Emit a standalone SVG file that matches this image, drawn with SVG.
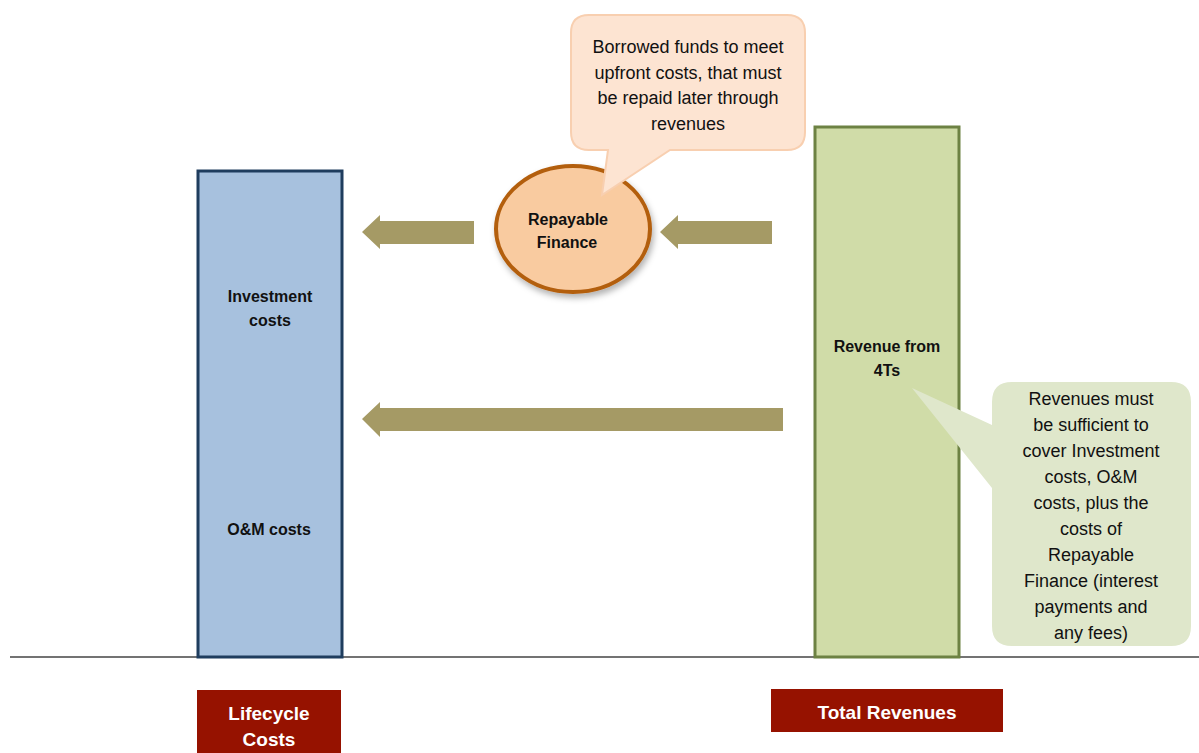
<svg xmlns="http://www.w3.org/2000/svg" width="1199" height="753" viewBox="0 0 1199 753">
<style>
.t{font-family:"Liberation Sans",Arial,sans-serif;fill:#111;text-anchor:middle}
.b{font-weight:bold;font-size:16px}
.c{font-size:18px}
.lab{font-family:"Liberation Sans",Arial,sans-serif;font-weight:bold;font-size:19px;fill:#fff;text-anchor:middle}
.arrow{fill:#a59a65}
</style>
<defs>
<filter id="sh" x="-20%" y="-20%" width="140%" height="150%">
<feDropShadow dx="2" dy="4" stdDeviation="3" flood-color="#000" flood-opacity="0.3"/>
</filter>
</defs>
<rect width="1199" height="753" fill="#fff"/>
<line x1="10" y1="657" x2="1199" y2="657" stroke="#444" stroke-width="1.5"/>
<g id="lifecycle-bar">
<rect x="198" y="171" width="144" height="486" fill="#a7c1de" stroke="#1f3d5e" stroke-width="3"/>
<text class="t b" x="270" y="302">Investment</text>
<text class="t b" x="270" y="326">costs</text>
<text class="t b" x="269" y="535">O&amp;M costs</text>
</g>
<g id="revenue-bar">
<rect x="815" y="127" width="144" height="530" fill="#d0dca8" stroke="#6d8243" stroke-width="3"/>
<text class="t b" x="887" y="352">Revenue from</text>
<text class="t b" x="887" y="376">4Ts</text>
</g>
<g id="connectors">
<polygon class="arrow" points="362,232 380,215 380,221 474,221 474,244 380,244 380,249"/>
<polygon class="arrow" points="660,232 678,215 678,221 772,221 772,244 678,244 678,249"/>
<polygon class="arrow" points="362,419 380,402 380,408 783,408 783,431 380,431 380,437"/>
</g>
<g id="repayable-finance">
<ellipse cx="573" cy="229" rx="77" ry="63" fill="#f9cba0" stroke="#b35e10" stroke-width="4" filter="url(#sh)"/>
<text class="t b" x="568" y="225">Repayable</text>
<text class="t b" x="567" y="248">Finance</text>
</g>
<g id="callout-finance">
<path d="M589,15 H787 Q805,15 805,33 V132 Q805,150 787,150 H670 L602,195 L608,150 H589 Q571,150 571,132 V33 Q571,15 589,15 Z" fill="#fde4d2" stroke="#f8cfb0" stroke-width="2"/>
<text class="t c" x="688" y="53">Borrowed funds to meet</text>
<text class="t c" x="688" y="79">upfront costs, that must</text>
<text class="t c" x="688" y="104">be repaid later through</text>
<text class="t c" x="688" y="130">revenues</text>
</g>
<g id="callout-revenue">
<path d="M1012,382 H1171 Q1191,382 1191,402 V626 Q1191,646 1171,646 H1012 Q992,646 992,626 V488 L912,388 L992,425 V402 Q992,382 1012,382 Z" fill="#dfe7cb"/>
<text class="t c" x="1091" y="405">Revenues must</text>
<text class="t c" x="1091" y="431">be sufficient to</text>
<text class="t c" x="1091" y="457">cover Investment</text>
<text class="t c" x="1091" y="483">costs, O&amp;M</text>
<text class="t c" x="1091" y="509">costs, plus the</text>
<text class="t c" x="1091" y="535">costs of</text>
<text class="t c" x="1091" y="561">Repayable</text>
<text class="t c" x="1091" y="587">Finance (interest</text>
<text class="t c" x="1091" y="613">payments and</text>
<text class="t c" x="1091" y="639">any fees)</text>
</g>
<g id="label-lifecycle">
<rect x="197" y="690" width="144" height="63" fill="#961200"/>
<text class="lab" x="269" y="720">Lifecycle</text>
<text class="lab" x="269" y="746">Costs</text>
</g>
<g id="label-revenues">
<rect x="771" y="689" width="232" height="43" fill="#961200"/>
<text class="lab" x="887" y="719">Total Revenues</text>
</g>
</svg>
